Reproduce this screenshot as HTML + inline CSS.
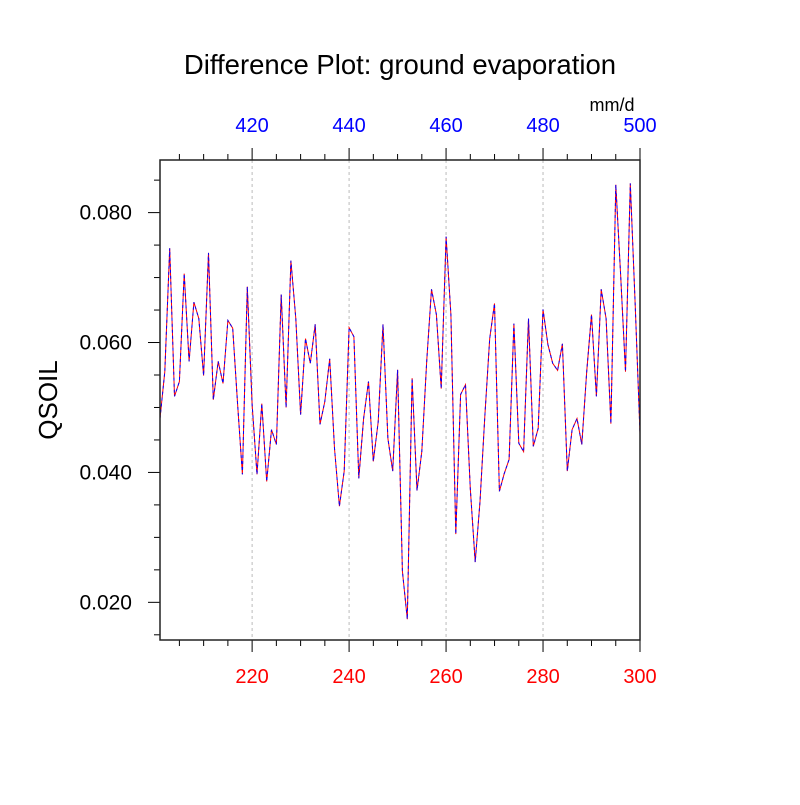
<!DOCTYPE html>
<html><head><meta charset="utf-8"><style>
body{margin:0;background:#fff}
svg text{font-family:"Liberation Sans",sans-serif}
</style></head><body>
<svg id="chart" width="800" height="800" xmlns="http://www.w3.org/2000/svg">
<rect width="800" height="800" fill="#fff"/>
<text x="400" y="74" font-size="27.5" text-anchor="middle">Difference Plot: ground evaporation</text>
<text x="612" y="111" font-size="18" text-anchor="middle">mm/d</text>
<text x="57" y="400" font-size="26" text-anchor="middle" transform="rotate(-90 57 400)">QSOIL</text>
<g id="grid"></g><g id="series"></g><g id="axes"></g>
</svg>
<script>
const xStart = 201;
const values = [0.0483,0.0555,0.0745,0.0517,0.0540,0.0706,0.0571,0.0662,0.0637,0.0549,0.0738,0.0512,0.0571,0.0537,0.0634,0.0622,0.0505,0.0397,0.0686,0.0505,0.0397,0.0506,0.0386,0.0466,0.0443,0.0674,0.0500,0.0726,0.0637,0.0489,0.0606,0.0568,0.0628,0.0474,0.0509,0.0575,0.0437,0.0348,0.0402,0.0623,0.0609,0.0391,0.0483,0.0540,0.0417,0.0478,0.0628,0.0452,0.0402,0.0558,0.0248,0.0174,0.0545,0.0372,0.0432,0.0571,0.0682,0.0643,0.0529,0.0763,0.0643,0.0305,0.0520,0.0535,0.0375,0.0262,0.0355,0.0486,0.0606,0.0660,0.0371,0.0398,0.0420,0.0629,0.0445,0.0432,0.0637,0.0440,0.0468,0.0651,0.0597,0.0568,0.0557,0.0598,0.0402,0.0466,0.0483,0.0443,0.0555,0.0643,0.0517,0.0682,0.0637,0.0475,0.0843,0.0705,0.0555,0.0845,0.0658,0.0460];
const bottomTicks = [220,240,260,280,300];
const topTicks = [420,440,460,480,500];
const yTicks = [0.020,0.040,0.060,0.080];
const yTickLabels = ["0.020","0.040","0.060","0.080"];

const L=160,R=640,T=160,B=640;
const xMin=201,xMax=300,yMin=0.0142,yMax=0.0881;
const sx=v=>L+(v-xMin)/(xMax-xMin)*(R-L);
const sy=v=>B-(v-yMin)/(yMax-yMin)*(B-T);
const NS="http://www.w3.org/2000/svg";
function mk(tag,attrs,parent,txt){const e=document.createElementNS(NS,tag);for(const k in attrs)e.setAttribute(k,attrs[k]);if(txt!==undefined)e.textContent=txt;parent.appendChild(e);return e;}
const grid=document.getElementById('grid'),ser=document.getElementById('series'),ax=document.getElementById('axes');

bottomTicks.forEach((t,i)=>{
  if(t<xMax){const g=mk('line',{x1:sx(t),x2:sx(t),y1:T,y2:B,stroke:'#bbb','stroke-width':1,'stroke-dasharray':'3,3'},grid);
  
  }
  const bl=mk('text',{x:sx(t),y:B+43,'font-size':20,fill:'#f00','text-anchor':'middle'},ax,String(t));
  
  
  const tl=mk('text',{x:sx(t),y:T-28,'font-size':20,fill:'#00f','text-anchor':'middle'},ax,String(topTicks[i]));
  
  
});
for(let v=205;v<=xMax;v+=5){const maj=v%20===0;
  mk('line',{x1:sx(v),x2:sx(v),y1:B,y2:B+(maj?12:6),stroke:'#000','stroke-width':1},ax);
  mk('line',{x1:sx(v),x2:sx(v),y1:T,y2:T-(maj?12:6),stroke:'#000','stroke-width':1},ax);}
for(let k=3;k<=17;k++){const v=k*0.005;const maj=k%4===0;
  mk('line',{x1:L,x2:L-(maj?12:6),y1:sy(v),y2:sy(v),stroke:'#000','stroke-width':1},ax);}
yTicks.forEach((t,i)=>{const e=mk('text',{x:L-28,y:sy(t)+7,'font-size':21,'text-anchor':'end'},ax,yTickLabels[i]);
  
  });
const fr=mk('rect',{x:L,y:T,width:R-L,height:B-T,fill:'none',stroke:'#222','stroke-width':1.5},ax);



const pts=values.map((v,i)=>sx(xStart+i).toFixed(1)+','+sy(v).toFixed(1)).join(' ');
const l1=mk('polyline',{points:pts,fill:'none',stroke:'#f00','stroke-width':1},ser);


const l2=mk('polyline',{points:pts,fill:'none',stroke:'#00f','stroke-width':1,'stroke-dasharray':'3,3'},ser);


</script>
</body></html>
